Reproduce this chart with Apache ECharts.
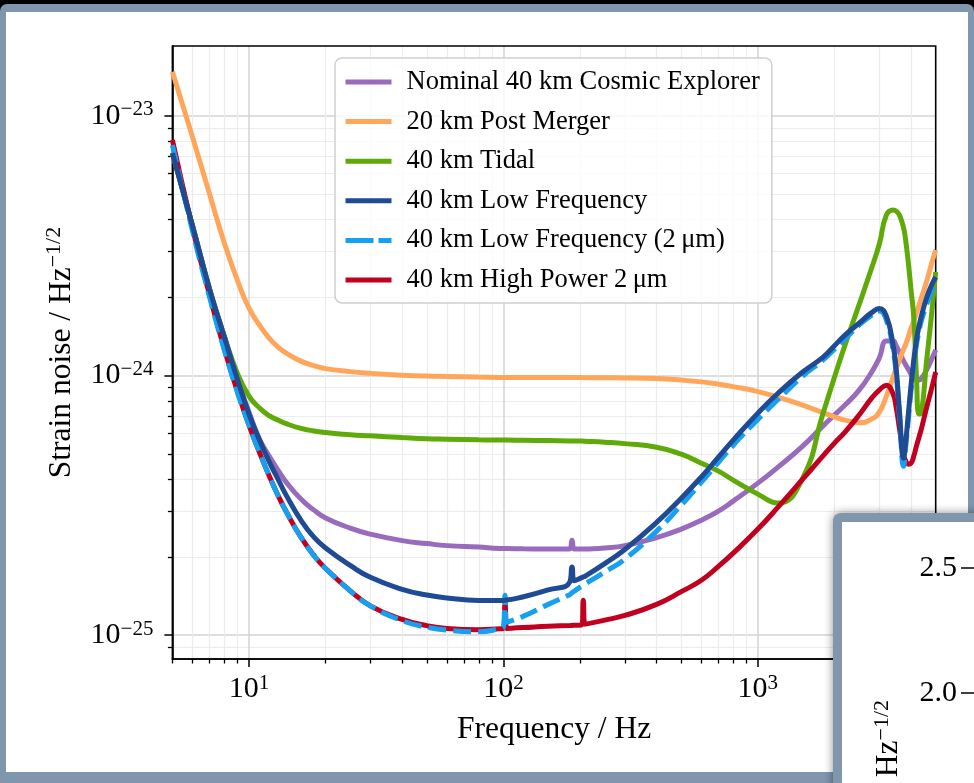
<!DOCTYPE html>
<html>
<head>
<meta charset="utf-8">
<title>Strain noise</title>
<script src="https://cdn.jsdelivr.net/npm/echarts@6/dist/echarts.min.js"></script>
<style>
  html, body { margin: 0; padding: 0; background: #000; width: 974px; height: 783px; overflow: hidden; }
  .win { position: absolute; left: 0; top: 4px; width: 974px; height: 779px; background: #8096ad; border-radius: 7px 7px 0 0; }
  .pane { position: absolute; left: 6px; top: 12px; width: 962px; height: 760px; background: #fff; }
  #chart { position: absolute; left: 0; top: 0; width: 974px; height: 783px; }
</style>
</head>
<body>
<div class="win"></div>
<div class="pane"></div>
<div id="chart"></div>
<script>
// frequency grid (Hz) shared by all curves
const freq = [5, 6, 7, 8, 9, 10, 11, 12, 13, 14, 16, 18, 20, 25, 30, 40, 50, 60, 80, 97,
  100, 101.5, 103, 120, 150, 182, 186, 190, 203, 206, 209, 250, 300, 400, 500, 600, 700, 800,
  1000, 1200, 1500, 1800, 2000, 2200, 2500, 2800, 3000, 3200, 3400, 3500, 3600, 3740, 3800,
  3900, 4000, 4100, 4200, 4300, 4400, 4600, 4800, 5000];

// strain noise, in units of 1e-24 / sqrt(Hz)
const nominal40 = [7.19, 3.77, 2.154, 1.407, 0.969, 0.723, 0.569, 0.490, 0.4325, 0.3889,
  0.3345, 0.3033, 0.2831, 0.2586, 0.2451, 0.2314, 0.2254, 0.2214, 0.2185, 0.216,
  0.216, 0.2158, 0.2157, 0.2152, 0.2147, 0.2147, 0.2324, 0.2147, 0.2147, 0.2147,
  0.2149, 0.2169, 0.2214, 0.2377, 0.2563, 0.2775, 0.3006, 0.3285, 0.3854, 0.4441,
  0.5352, 0.639, 0.705, 0.770, 0.879, 1.032, 1.168, 1.358, 1.358, 1.299,
  1.232, 1.137, 1.107, 1.059, 1.013, 0.978, 0.961, 0.961, 0.978, 1.050,
  1.147, 1.254];
const postMerger20 = [14.8, 8.29, 5.00, 3.24, 2.33, 1.82, 1.565, 1.394, 1.288, 1.221,
  1.137, 1.093, 1.064, 1.036, 1.02, 1.004, 0.996, 0.993, 0.987, 0.984,
  0.984, 0.984, 0.984, 0.984, 0.984, 0.983, 0.983, 0.983, 0.983, 0.982,
  0.982, 0.981, 0.98, 0.974, 0.961, 0.946, 0.927, 0.907, 0.868, 0.826,
  0.770, 0.720, 0.694, 0.674, 0.658, 0.680, 0.723, 0.834, 0.987, 1.069,
  1.147, 1.265, 1.311, 1.407, 1.524, 1.622, 1.741, 1.869, 2.006, 2.292,
  2.666, 3.044];
const tidal40 = [7.19, 3.77, 2.154, 1.420, 1.022, 0.834, 0.750, 0.701, 0.674, 0.653,
  0.626, 0.612, 0.604, 0.592, 0.586, 0.577, 0.571, 0.569, 0.566, 0.5645,
  0.5645, 0.5645, 0.5643, 0.5635, 0.562, 0.5605, 0.560, 0.5598, 0.5595, 0.5593,
  0.559, 0.554, 0.547, 0.530, 0.498, 0.460, 0.4286, 0.396, 0.3496, 0.3228,
  0.4029, 0.711, 0.985, 1.311, 1.876, 2.595, 3.205, 4.153, 4.341, 4.30,
  4.153, 3.70, 3.386, 2.737, 2.135, 1.68, 0.996, 0.711, 0.723, 1.127,
  1.665, 2.504];
const lowFreq40 = [7.19, 3.77, 2.154, 1.407, 0.969, 0.711, 0.5645, 0.4665, 0.3993, 0.3465,
  0.2775, 0.2386, 0.2169, 0.1858, 0.1671, 0.1502, 0.1428, 0.1392, 0.1362, 0.1360,
  0.1362, 0.1365, 0.1366, 0.1407, 0.1494, 0.1597, 0.1830, 0.1623, 0.1667, 0.1678,
  0.1687, 0.1887, 0.2138, 0.2719, 0.3371, 0.4075, 0.4850, 0.5640, 0.717, 0.855,
  1.032, 1.175, 1.304, 1.432, 1.593, 1.748, 1.812, 1.695, 1.311, 1.050,
  0.736, 0.481, 0.540, 0.705, 0.919, 1.147, 1.370, 1.551, 1.710, 1.989,
  2.212, 2.396];
const lowFreq40_2um = [7.72, 3.603, 2.006, 1.254, 0.864, 0.6445, 0.5055, 0.4111, 0.3458, 0.2995,
  0.2386, 0.2029, 0.1807, 0.1483, 0.1298, 0.1138, 0.1074, 0.1046, 0.1032, 0.1060,
  0.1074, 0.1427, 0.1123, 0.1185, 0.1315, 0.1433, 0.1458, 0.1479, 0.1546, 0.1560,
  0.1573, 0.1750, 0.1964, 0.2518, 0.3170, 0.3888, 0.4634, 0.5395, 0.678, 0.809,
  0.9956, 1.147, 1.265, 1.382, 1.565, 1.710, 1.772, 1.636, 1.254, 1.004,
  0.705, 0.448, 0.516, 0.674, 0.879, 1.098, 1.311, 1.484, 1.636, 1.869,
  2.097, 2.251];
const highPower40_2um = [8.075, 3.70, 2.042, 1.265, 0.872, 0.6445, 0.5055, 0.4111, 0.3458, 0.2995,
  0.2386, 0.2029, 0.1807, 0.1483, 0.1298, 0.1150, 0.1089, 0.1062, 0.1051, 0.1060,
  0.1062, 0.1330, 0.1062, 0.1070, 0.1084, 0.1089, 0.1091, 0.1092, 0.1096, 0.1365,
  0.1103, 0.1143, 0.1192, 0.1315, 0.1472, 0.1629, 0.1842, 0.2071, 0.2563, 0.3113,
  0.399, 0.4897, 0.5495, 0.606, 0.705, 0.819, 0.879, 0.919, 0.849, 0.750,
  0.628, 0.494, 0.4724, 0.456, 0.460, 0.4897, 0.535, 0.5795, 0.628, 0.750,
  0.879, 1.032];

// ticks (y ticks in the same 1e-24 units)
const unitExp = -24;
const xMajorTicks = [10, 100, 1000];
const xMinorTicks = [5, 6, 7, 8, 9, 20, 30, 40, 50, 60, 70, 80, 90,
  200, 300, 400, 500, 600, 700, 800, 900, 2000, 3000, 4000];
const yMajorTicks = [0.1, 1, 10];
const yMinorTicks = [0.09, 0.2, 0.3, 0.4, 0.5, 0.6, 0.7, 0.8, 0.9,
  2, 3, 4, 5, 6, 7, 8, 9];

const serif = "'Liberation Serif', 'DejaVu Serif', serif";

function powLabel(e) {
  return '{b|10}{s|' + (e < 0 ? '\u2212' + (-e) : e) + '}';
}
const xLabel = v => powLabel(Math.round(Math.log10(v)));
const yLabel = v => powLabel(Math.round(Math.log10(v)) + unitExp);

const tickRich = {
  b: { fontFamily: serif, fontSize: 30, lineHeight: 33, color: '#000' },
  s: { fontFamily: serif, fontSize: 21, lineHeight: 21, verticalAlign: 'top', color: '#000' }
};
const nameRich = {
  t: { fontFamily: serif, fontSize: 31.5, lineHeight: 36, color: '#000' },
  s: { fontFamily: serif, fontSize: 22, lineHeight: 22, verticalAlign: 'top', color: '#000' }
};

const gridBox = { left: 172.4, top: 46, right: 38.3, bottom: 124, outerBoundsMode: 'none' };
const xRange = { min: 5, max: 5000 };
const yRange = { min: 0.081, max: 18.6 };

function mk(name, vals, color, dashed) {
  return {
    name: name,
    type: 'line',
    xAxisIndex: 1,
    yAxisIndex: 1,
    symbol: 'none',
    smooth: 0.5,
    data: freq.map((f, i) => [f, vals[i]]),
    lineStyle: { color: color, width: 5, type: dashed ? [18, 7] : 'solid', cap: 'butt' },
    itemStyle: { color: color }
  };
}

const names = ['Nominal 40 km Cosmic Explorer', '20 km Post Merger', '40 km Tidal',
  '40 km Low Frequency', '40 km Low Frequency (2\u2009\u03bcm)', '40 km High Power 2\u2009\u03bcm'];

const chart = echarts.init(document.getElementById('chart'));
const option = {
  animation: false,
  textStyle: { fontFamily: serif },
  grid: [
    Object.assign({ show: false }, gridBox),
    Object.assign({ show: true, borderColor: '#000', borderWidth: 1.6, z: 3 }, gridBox)
  ],
  xAxis: [
    Object.assign({
      type: 'log', gridIndex: 0, position: 'bottom',
      axisLine: { show: false },
      axisTick: { customValues: xMinorTicks, length: 4.5, lineStyle: { color: '#000', width: 1.3 } },
      axisLabel: { show: false },
      splitLine: { show: true, lineStyle: { color: '#ececec', width: 1.2 } }
    }, xRange),
    Object.assign({
      type: 'log', gridIndex: 1, position: 'bottom',
      name: 'Frequency / Hz', nameLocation: 'middle', nameGap: 55,
      nameTextStyle: { fontFamily: serif, fontSize: 31.5, color: '#000' },
      axisLine: { show: true, onZero: false, lineStyle: { color: '#000', width: 1.6 } },
      axisTick: { customValues: xMajorTicks, length: 8, lineStyle: { color: '#000', width: 1.5 } },
      axisLabel: { customValues: xMajorTicks, formatter: xLabel, rich: tickRich, margin: 14 },
      splitLine: { show: true, lineStyle: { color: '#d3d3d3', width: 1.5 } }
    }, xRange)
  ],
  yAxis: [
    Object.assign({
      type: 'log', gridIndex: 0, position: 'left',
      axisLine: { show: false },
      axisTick: { customValues: yMinorTicks, length: 4.5, lineStyle: { color: '#000', width: 1.3 } },
      axisLabel: { show: false },
      splitLine: { show: true, lineStyle: { color: '#ececec', width: 1.2 } }
    }, yRange),
    Object.assign({
      type: 'log', gridIndex: 1, position: 'left',
      name: '{t|Strain noise / Hz}{s|\u22121/2}', nameLocation: 'middle', nameGap: 93,
      nameTextStyle: { rich: nameRich },
      axisLine: { show: true, onZero: false, lineStyle: { color: '#000', width: 1.6 } },
      axisTick: { customValues: yMajorTicks, length: 8, lineStyle: { color: '#000', width: 1.5 } },
      axisLabel: { customValues: yMajorTicks, formatter: yLabel, rich: tickRich, margin: 19 },
      splitLine: { show: true, lineStyle: { color: '#d3d3d3', width: 1.5 } }
    }, yRange)
  ],
  legend: {
    data: names.map((n, i) => i === 4 ? { name: n, lineStyle: { type: [28, 5] } } : n),
    orient: 'vertical',
    left: 335, top: 58,
    padding: [9, 12, 8, 8],
    itemWidth: 46, itemHeight: 14, itemGap: 9.6,
    backgroundColor: 'rgba(255,255,255,0.8)',
    borderColor: '#cfcfcf', borderWidth: 1.5, borderRadius: 7,
    itemStyle: { opacity: 0 },
    lineStyle: { width: 5 },
    textStyle: { fontFamily: serif, fontSize: 26.5, color: '#000', lineHeight: 30, padding: [0, 0, 0, 10] },
    selectedMode: false
  },
  // drawing order: red under the dashed line, dark blue on top
  series: [
    mk(names[0], nominal40, '#986bbd'),
    mk(names[1], postMerger20, '#ffa65a'),
    mk(names[2], tidal40, '#5faa08'),
    mk(names[5], highPower40_2um, '#c1001f'),
    mk(names[4], lowFreq40_2um, '#179ff0', true),
    mk(names[3], lowFreq40, '#1f4b94')
  ],
  graphic: [
    { type: 'rect', z: 100, shape: { x: 833, y: 513, width: 160, height: 290, r: [8, 0, 0, 0] },
      style: { fill: '#8096ad', shadowBlur: 10, shadowColor: 'rgba(0,0,0,0.45)' } },
    { type: 'rect', z: 101, shape: { x: 842, y: 522, width: 150, height: 280 }, style: { fill: '#fff' } },
    { type: 'text', z: 102, x: 957, y: 568,
      style: { text: '2.5', fontFamily: serif, fontSize: 30, fill: '#000', align: 'right', verticalAlign: 'middle' } },
    { type: 'text', z: 102, x: 957, y: 693,
      style: { text: '2.0', fontFamily: serif, fontSize: 30, fill: '#000', align: 'right', verticalAlign: 'middle' } },
    { type: 'line', z: 102, shape: { x1: 961, y1: 568, x2: 980, y2: 568 }, style: { stroke: '#000', lineWidth: 1.5 } },
    { type: 'line', z: 102, shape: { x1: 961, y1: 693, x2: 980, y2: 693 }, style: { stroke: '#000', lineWidth: 1.5 } },
    { type: 'text', z: 102, x: 889, y: 700, rotation: Math.PI / 2,
      style: { text: '{t|Strain noise / Hz}{s|\u22121/2}', rich: nameRich, align: 'right', verticalAlign: 'middle' } }
  ]
};
chart.setOption(option);
</script>
</body>
</html>
